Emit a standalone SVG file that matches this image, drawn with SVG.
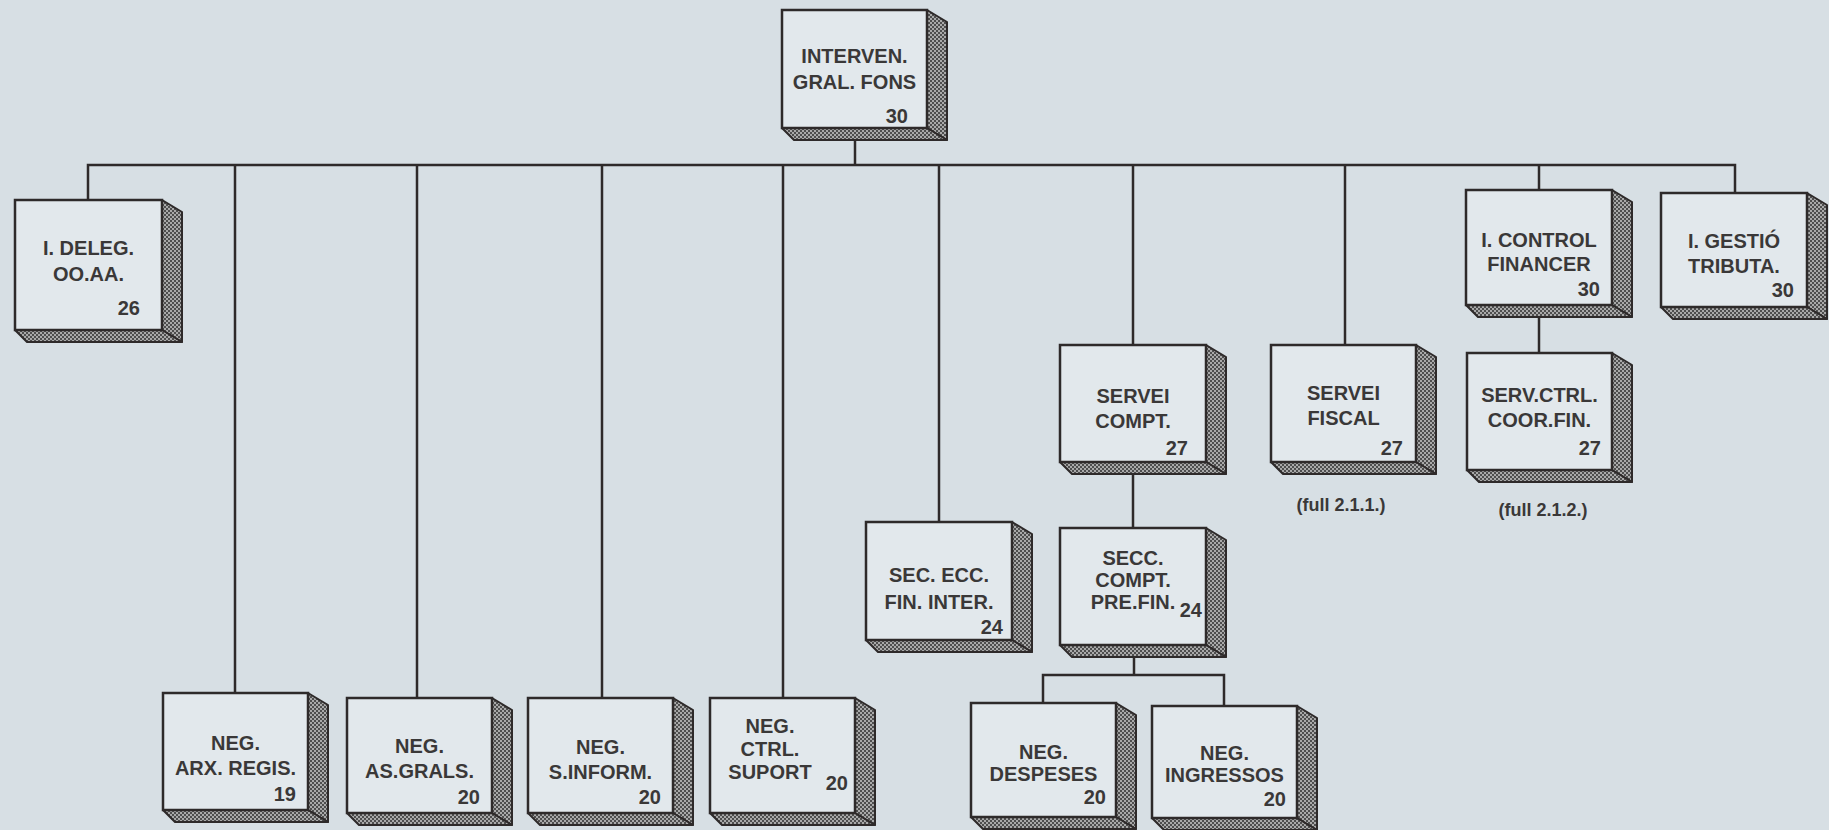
<svg xmlns="http://www.w3.org/2000/svg" width="1829" height="830" viewBox="0 0 1829 830">
<defs>
<pattern id="hatch" width="4" height="4" patternUnits="userSpaceOnUse">
<rect width="4" height="4" fill="#4e4e4e"/>
<rect x="0" y="0" width="2" height="2" fill="#a9a9a9"/>
<rect x="2" y="2" width="2" height="2" fill="#a9a9a9"/>
</pattern>
<style>
.front{fill:#e2e8ec;stroke:#2e2a2a;stroke-width:2.5}
.side,.bot{fill:url(#hatch);stroke:#2e2a2a;stroke-width:2;stroke-linejoin:round}
.t{font-family:"Liberation Sans",Arial,sans-serif;font-weight:bold;font-size:20px;fill:#3a3838;text-anchor:middle}
.n{font-family:"Liberation Sans",Arial,sans-serif;font-weight:bold;font-size:20px;fill:#3a3838;text-anchor:end}
.s{font-family:"Liberation Sans",Arial,sans-serif;font-weight:bold;font-size:18px;fill:#3a3838;text-anchor:middle}
.c{fill:none;stroke:#2e2a2a;stroke-width:2.5}
</style>
</defs>
<rect width="1829" height="830" fill="#d7dfe4"/>

<g id="connectors" class="c">
<path d="M855,140 V165"/>
<path d="M88,200 V165 H1735 V193"/>
<path d="M235,165 V693"/>
<path d="M417,165 V698"/>
<path d="M602,165 V698"/>
<path d="M783,165 V698"/>
<path d="M939,165 V522"/>
<path d="M1133,165 V345"/>
<path d="M1345,165 V345"/>
<path d="M1539,165 V190"/>
<path d="M1539,317 V353"/>
<path d="M1133,474 V528"/>
<path d="M1134,657 V675"/>
<path d="M1043,703 V675 H1224 V706"/>
</g>

<g id="n_interven">
<polygon class="side" points="927,10 947,22 947,140 927,128"/>
<polygon class="bot" points="782,128 927,128 947,140 794,140"/>
<rect class="front" x="782" y="10" width="145" height="118"/>
<text class="t" x="854.5" y="63">INTERVEN.</text>
<text class="t" x="854.5" y="89">GRAL. FONS</text>
<text class="n" x="908" y="123">30</text>
</g>

<g id="n_deleg">
<polygon class="side" points="162,200 182,212 182,342 162,330"/>
<polygon class="bot" points="15,330 162,330 182,342 27,342"/>
<rect class="front" x="15" y="200" width="147" height="130"/>
<text class="t" x="88.5" y="255">I. DELEG.</text>
<text class="t" x="88.5" y="281">OO.AA.</text>
<text class="n" x="140" y="315">26</text>
</g>

<g id="n_arx">
<polygon class="side" points="308,693 328,705 328,822 308,810"/>
<polygon class="bot" points="163,810 308,810 328,822 175,822"/>
<rect class="front" x="163" y="693" width="145" height="117"/>
<text class="t" x="235.5" y="750">NEG.</text>
<text class="t" x="235.5" y="775">ARX. REGIS.</text>
<text class="n" x="296" y="801">19</text>
</g>

<g id="n_asgrals">
<polygon class="side" points="492,698 512,710 512,825 492,813"/>
<polygon class="bot" points="347,813 492,813 512,825 359,825"/>
<rect class="front" x="347" y="698" width="145" height="115"/>
<text class="t" x="419.5" y="753">NEG.</text>
<text class="t" x="419.5" y="778">AS.GRALS.</text>
<text class="n" x="480" y="804">20</text>
</g>

<g id="n_sinform">
<polygon class="side" points="673,698 693,710 693,825 673,813"/>
<polygon class="bot" points="528,813 673,813 693,825 540,825"/>
<rect class="front" x="528" y="698" width="145" height="115"/>
<text class="t" x="600.5" y="754">NEG.</text>
<text class="t" x="600.5" y="779">S.INFORM.</text>
<text class="n" x="661" y="804">20</text>
</g>

<g id="n_suport">
<polygon class="side" points="855,698 875,710 875,825 855,813"/>
<polygon class="bot" points="710,813 855,813 875,825 722,825"/>
<rect class="front" x="710" y="698" width="145" height="115"/>
<text class="t" x="770" y="733">NEG.</text>
<text class="t" x="770" y="756">CTRL.</text>
<text class="t" x="770" y="779">SUPORT</text>
<text class="n" x="848" y="790">20</text>
</g>

<g id="n_secc_ecc">
<polygon class="side" points="1012,522 1032,534 1032,652 1012,640"/>
<polygon class="bot" points="866,640 1012,640 1032,652 878,652"/>
<rect class="front" x="866" y="522" width="146" height="118"/>
<text class="t" x="939" y="582">SEC. ECC.</text>
<text class="t" x="939" y="609">FIN. INTER.</text>
<text class="n" x="1003" y="634">24</text>
</g>

<g id="n_servei_compt">
<polygon class="side" points="1206,345 1226,357 1226,474 1206,462"/>
<polygon class="bot" points="1060,462 1206,462 1226,474 1072,474"/>
<rect class="front" x="1060" y="345" width="146" height="117"/>
<text class="t" x="1133" y="403">SERVEI</text>
<text class="t" x="1133" y="428">COMPT.</text>
<text class="n" x="1188" y="455">27</text>
</g>

<g id="n_secc_compt">
<polygon class="side" points="1206,528 1226,540 1226,657 1206,645"/>
<polygon class="bot" points="1060,645 1206,645 1226,657 1072,657"/>
<rect class="front" x="1060" y="528" width="146" height="117"/>
<text class="t" x="1133" y="565">SECC.</text>
<text class="t" x="1133" y="587">COMPT.</text>
<text class="t" x="1133" y="609">PRE.FIN.</text>
<text class="n" x="1202" y="617">24</text>
</g>

<g id="n_despeses">
<polygon class="side" points="1116,703 1136,715 1136,829 1116,817"/>
<polygon class="bot" points="971,817 1116,817 1136,829 983,829"/>
<rect class="front" x="971" y="703" width="145" height="114"/>
<text class="t" x="1043.5" y="759">NEG.</text>
<text class="t" x="1043.5" y="781">DESPESES</text>
<text class="n" x="1106" y="804">20</text>
</g>

<g id="n_ingressos">
<polygon class="side" points="1297,706 1317,718 1317,830 1297,818"/>
<polygon class="bot" points="1152,818 1297,818 1317,830 1164,830"/>
<rect class="front" x="1152" y="706" width="145" height="112"/>
<text class="t" x="1224.5" y="760">NEG.</text>
<text class="t" x="1224.5" y="782">INGRESSOS</text>
<text class="n" x="1286" y="806">20</text>
</g>

<g id="n_fiscal">
<polygon class="side" points="1416,345 1436,357 1436,474 1416,462"/>
<polygon class="bot" points="1271,462 1416,462 1436,474 1283,474"/>
<rect class="front" x="1271" y="345" width="145" height="117"/>
<text class="t" x="1343.5" y="400">SERVEI</text>
<text class="t" x="1343.5" y="425">FISCAL</text>
<text class="n" x="1403" y="455">27</text>
</g>
<text id="t_full1" class="s" x="1341" y="511">(full 2.1.1.)</text>

<g id="n_control">
<polygon class="side" points="1612,190 1632,202 1632,317 1612,305"/>
<polygon class="bot" points="1466,305 1612,305 1632,317 1478,317"/>
<rect class="front" x="1466" y="190" width="146" height="115"/>
<text class="t" x="1539" y="247">I. CONTROL</text>
<text class="t" x="1539" y="271">FINANCER</text>
<text class="n" x="1600" y="296">30</text>
</g>

<g id="n_servctrl">
<polygon class="side" points="1612,353 1632,365 1632,482 1612,470"/>
<polygon class="bot" points="1467,470 1612,470 1632,482 1479,482"/>
<rect class="front" x="1467" y="353" width="145" height="117"/>
<text class="t" x="1539.5" y="402">SERV.CTRL.</text>
<text class="t" x="1539.5" y="427">COOR.FIN.</text>
<text class="n" x="1601" y="455">27</text>
</g>
<text id="t_full2" class="s" x="1543" y="516">(full 2.1.2.)</text>

<g id="n_gestio">
<polygon class="side" points="1807,193 1827,205 1827,319 1807,307"/>
<polygon class="bot" points="1661,307 1807,307 1827,319 1673,319"/>
<rect class="front" x="1661" y="193" width="146" height="114"/>
<text class="t" x="1734" y="248">I. GESTIÓ</text>
<text class="t" x="1734" y="273">TRIBUTA.</text>
<text class="n" x="1794" y="297">30</text>
</g>
</svg>
